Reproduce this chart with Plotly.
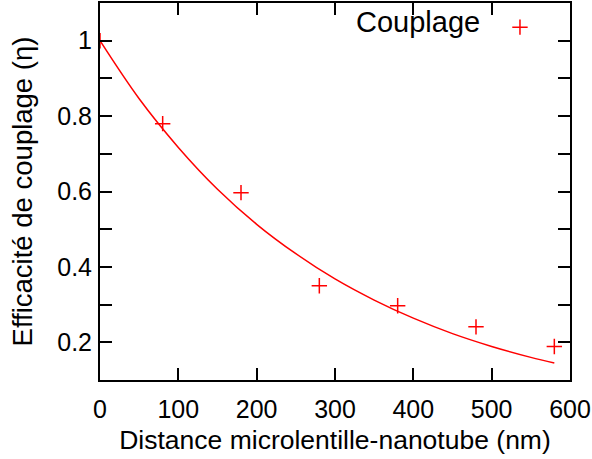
import plotly.graph_objects as go

# Measured coupling efficiency
distance_nm = [0, 80, 180, 280, 380, 480, 580]
efficiency = [1.0, 0.78, 0.597, 0.35, 0.297, 0.241, 0.189]

# Fitted curve, values
fit_x = [0, 50, 100, 150, 200, 250, 300, 350, 400, 450, 500, 550, 580]
fit_y = [1.0, 0.846, 0.717, 0.606, 0.513, 0.435, 0.368, 0.312, 0.264, 0.223, 0.189, 0.160, 0.145]

y_tickvals = [0.2, 0.3, 0.4, 0.5, 0.6, 0.7, 0.8, 0.9, 1.0]
y_ticktext = ["0.2", "", "0.4", "", "0.6", "", "0.8", "", "1"]
x_tickvals = [0, 100, 200, 300, 400, 500, 600]
legend_label = "Couplage"

RED = "#ff0000"
FONT = "Liberation Sans, Arial, sans-serif"

fig = go.Figure()
fig.add_trace(go.Scatter(
    x=fit_x, y=fit_y, mode="lines", line=dict(color=RED, width=1.5, shape="spline"),
    showlegend=False, hoverinfo="skip"))
fig.add_trace(go.Scatter(
    x=distance_nm, y=efficiency, mode="markers", name="",
    marker=dict(symbol="cross-thin-open", size=11, line=dict(color=RED, width=1.5), color=RED),
    showlegend=True))

axis_common = dict(
    showline=True, linecolor="black", linewidth=2, mirror="allticks",
    ticks="inside", ticklen=12, tickwidth=1.5, tickcolor="black",
    showgrid=False, zeroline=False, automargin=False,
    tickfont=dict(family=FONT, size=25, color="black"),
)

fig.update_layout(
    width=592, height=459,
    margin=dict(l=100, r=22, t=3, b=79, autoexpand=False),
    paper_bgcolor="white", plot_bgcolor="white",
    font=dict(family=FONT, color="black"),
    xaxis=dict(range=[0, 600], tickvals=x_tickvals,
               title=dict(text="Distance microlentille-nanotube (nm)",
                          font=dict(family=FONT, size=26.5), standoff=8),
               ticklabelstandoff=6, **axis_common),
    yaxis=dict(range=[0.1, 1.1], tickvals=y_tickvals, ticktext=y_ticktext,
               title=dict(text="Efficacité de couplage (η)",
                          font=dict(family=FONT, size=27.5), standoff=17),
               ticklabelstandoff=1, **axis_common),
    legend=dict(x=0.851, y=0.936, xanchor="left", yanchor="middle",
                bgcolor="rgba(0,0,0,0)", font=dict(family=FONT, size=12)),
    annotations=[dict(text=legend_label, xref="paper", yref="paper",
                      x=0.8128, y=0.9496, xanchor="right", yanchor="middle",
                      showarrow=False, font=dict(family=FONT, size=29, color="black"))],
)

fig.write_html("out.html", config={"displayModeBar": False},
               post_script="document.body.style.margin='0px';")
